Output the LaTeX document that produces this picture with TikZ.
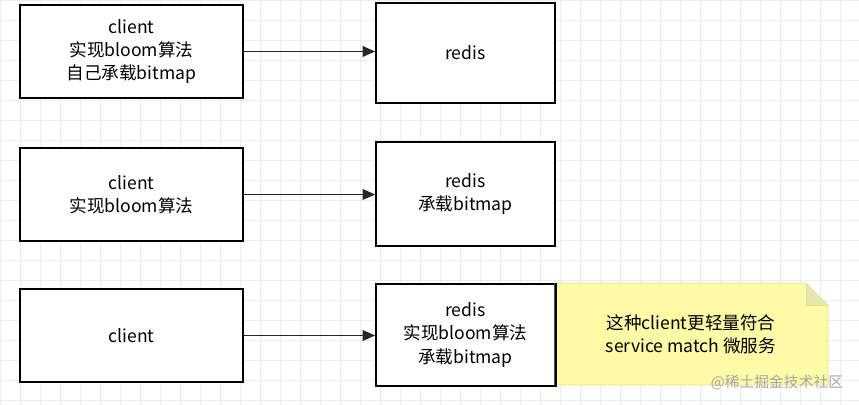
\documentclass[tikz,border=0pt]{standalone}
\usepackage{fontspec}
\newfontfamily\cjk{Noto Sans CJK SC}
\usetikzlibrary{positioning}
\usetikzlibrary{arrows.meta}

\begin{document}
\begin{tikzpicture}[x=0.025cm,y=-0.025cm,
		box/.style={
			draw,
			line width=1.1pt,
			fill=white,
			align=center,
			font=\cjk\fontsize{12.5}{16.5}\selectfont
		}, link/.style={line width=1.4pt, draw=black!85, -{Triangle[length=9pt,width=7.5pt]}}]
		\useasboundingbox (0,0) rectangle (859,405);
		\fill[white] (0,0) rectangle (859,405);
		\foreach \gx in {0,20,...,859} \draw[black!7] (\gx,0) -- (\gx,405);
		\foreach \gy in {0,20,...,405} \draw[black!7] (0,\gy) -- (859,\gy);
		
		\node[box, minimum width=5.575cm, minimum height=2.325cm] (c1) at (131.5,51.5) {client\\实现bloom算法\\自己承载bitmap};
		\node[box, minimum width=5.575cm, minimum height=2.325cm] (c2) at (131.5,194.5) {client\\实现bloom算法};
		\node[box, minimum width=5.575cm, minimum height=2.325cm] (c3) at (131.5,335.5) {client};
		
		\node[box, minimum width=4.475cm, minimum height=2.5cm] (r1) at (465.5,53) {redis};
		\node[box, minimum width=4.475cm, minimum height=2.6cm] (r2) at (465.5,194) {redis\\承载bitmap};
		\node[box, minimum width=4.475cm, minimum height=2.55cm] (r3) at (465.5,335) {redis\\实现bloom算法\\承载bitmap};
		
		% note
		\fill[yellow!35, draw=yellow!60!gray!60] (555,283) -- (806,283) -- (828,305) -- (828,385) -- (555,385) -- cycle;
		\draw[yellow!60!gray!60, fill=yellow!55!gray!45] (806,283) -- (806,305) -- (828,305);
		\node[align=center, font=\cjk\fontsize{12.5}{16.5}\selectfont] (note) at (691,334) {这种client更轻量符合\\service match 微服务};
		\draw[line width=1.1pt] (r3.north east) -- (r3.south east);
		
		\draw[link] (c1) -- (r1.west |- c1);
		\draw[link] (c2) -- (r2.west |- c2);
		\draw[link] (c3) -- (r3.west |- c3);
		
		\node[font=\cjk\fontsize{10.5}{11}\selectfont, text=black!35, anchor=east] (mark) at (848,383) {@稀土掘金技术社区};
	\end{tikzpicture}
\end{document}
